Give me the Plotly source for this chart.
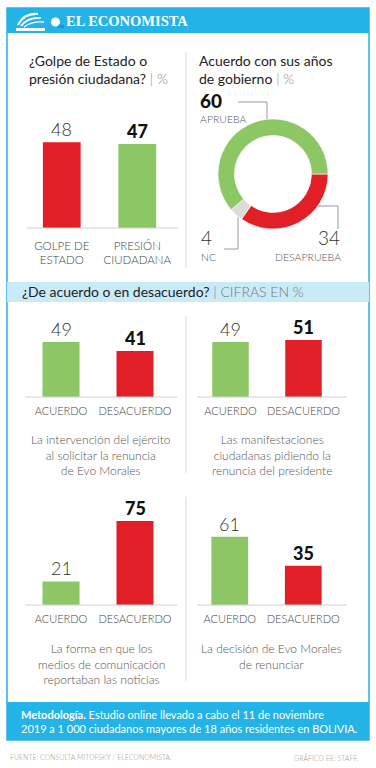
import plotly.graph_objects as go

W, H = 376, 768


def px(x):
    return x / W


def py(y):
    return 1 - y / H


GREEN = "#8cc665"
RED = "#e01f26"
NC_GRAY = "#dcdcdc"
BLUE = "#24b3e6"
LIGHTBLUE = "#c9eaf7"
FONT = "Lato"

# ---------------- data ----------------
golpe_cats = ["GOLPE DE<br>ESTADO", "PRESIÓN<br>CIUDADANA"]
golpe_vals = [48, 47]
golpe_bold = [False, True]
golpe_colors = [RED, GREEN]

donut_labels = ["DESAPRUEBA", "NC", "APRUEBA"]
donut_vals = [34, 4, 60]
donut_colors = [RED, NC_GRAY, GREEN]

acuerdo_cats = ["ACUERDO", "DESACUERDO"]
acuerdo_colors = [GREEN, RED]
acuerdo_bold = [False, True]
q1_vals = [49, 41]
q2_vals = [49, 51]
q3_vals = [21, 75]
q4_vals = [61, 35]
q1_desc = "La intervención del ejército<br>al solicitar la renuncia<br>de Evo Morales"
q2_desc = "Las manifestaciones<br>ciudadanas pidiendo la<br>renuncia del presidente"
q3_desc = "La forma en que los<br>medios de comunicación<br>reportaban las noticias"
q4_desc = "La decisión de Evo Morales<br>de renunciar"

fig = go.Figure()
annotations = []
shapes = []

# chart panels: (cats, vals, colors, bold, x0, x1, y_base, y_top, ymax, tick size, standoff)
panels = [
    (golpe_cats, golpe_vals, golpe_colors, golpe_bold, 24, 175, 228, 118, 61.5, 11.5, 9),
    (acuerdo_cats, q1_vals, acuerdo_colors, acuerdo_bold, 24, 172, 397, 320, 68.75, 11, 6),
    (acuerdo_cats, q2_vals, acuerdo_colors, acuerdo_bold, 194, 340, 397, 320, 68.75, 11, 6),
    (acuerdo_cats, q3_vals, acuerdo_colors, acuerdo_bold, 24, 172, 605, 500, 93.75, 11, 6),
    (acuerdo_cats, q4_vals, acuerdo_colors, acuerdo_bold, 193, 340, 605, 500, 93.75, 11, 6),
]

layout_axes = {}
for i, (cats, vals, cols, bold, x0, x1, yb, yt, ymax, tsz, stand) in enumerate(panels, start=1):
    xa = "x" if i == 1 else f"x{i}"
    ya = "y" if i == 1 else f"y{i}"
    fig.add_trace(go.Bar(x=cats, y=vals, marker=dict(color=cols, line=dict(width=0)),
                         width=0.5, xaxis=xa, yaxis=ya, showlegend=False,
                         hoverinfo="x+y"))
    xkey = "xaxis" if i == 1 else f"xaxis{i}"
    ykey = "yaxis" if i == 1 else f"yaxis{i}"
    layout_axes[xkey] = dict(domain=[px(x0), px(x1)], anchor=ya, showgrid=False,
                             zeroline=False, showline=False, ticks="",
                             ticklabelstandoff=stand,
                             tickfont=dict(family=FONT, size=tsz, color="#444", weight=300),
                             fixedrange=True)
    layout_axes[ykey] = dict(domain=[py(yb), py(yt)], anchor=xa, range=[0, ymax],
                             visible=False, fixedrange=True)
    for c, v, b in zip(cats, vals, bold):
        annotations.append(dict(
            x=c, y=v, xref=xa, yref=ya, text=str(v), showarrow=False,
            yanchor="bottom", xanchor="center", yshift=0,
            font=dict(family=FONT, size=18, color="#111" if b else "#333",
                      weight=900 if b else 300)))

# donut
fig.add_trace(go.Pie(values=donut_vals, labels=donut_labels,
                     marker=dict(colors=donut_colors, line=dict(color="white", width=0.6)),
                     hole=0.7, sort=False, direction="clockwise", rotation=90,
                     textinfo="none", showlegend=False,
                     domain=dict(x=[px(218), px(328)], y=[py(230), py(118)])))

# ---------------- decorations ----------------
def rect(x0, y0, x1, y1, fill=None, line=None, lw=0):
    d = dict(type="rect", xref="paper", yref="paper", x0=px(x0), x1=px(x1),
             y0=py(y1), y1=py(y0), layer="below")
    d["fillcolor"] = fill if fill else "rgba(0,0,0,0)"
    d["line"] = dict(color=line if line else "rgba(0,0,0,0)", width=lw)
    return d


def hline(x0, x1, y, color="#cfcfcf", w=1):
    return dict(type="line", xref="paper", yref="paper", x0=px(x0), x1=px(x1),
                y0=py(y), y1=py(y), line=dict(color=color, width=w))


def vline(x, y0, y1, color="#dedede", w=1):
    return dict(type="line", xref="paper", yref="paper", x0=px(x), x1=px(x),
                y0=py(y0), y1=py(y1), line=dict(color=color, width=w))


def path(points, color="#9a9a9a", w=1):
    s = "M " + " L ".join(f"{px(x):.5f},{py(y):.5f}" for x, y in points)
    return dict(type="path", xref="paper", yref="paper", path=s,
                line=dict(color=color, width=w))


shapes.append(rect(7, 8, 369, 33, fill=BLUE))
shapes.append(rect(7, 8, 369, 740, line=BLUE, lw=1.5))
shapes.append(rect(7, 282, 369, 302, fill=LIGHTBLUE))
shapes.append(rect(7, 702, 369, 740, fill=BLUE))

# dividers
shapes.append(vline(186, 52, 268))
shapes.append(vline(186, 316, 473))
shapes.append(vline(186, 497, 681))

# baselines
shapes.append(hline(27, 178, 228))
shapes.append(hline(25, 177, 397))
shapes.append(hline(197, 347, 397))
shapes.append(hline(25, 177, 605))
shapes.append(hline(197, 347, 605))

# donut leaders
shapes.append(path([(238, 102), (267, 102), (267, 119)]))
shapes.append(path([(238, 217), (238, 249), (224, 249)]))
shapes.append(path([(318, 206), (338, 206), (338, 229)]))

# logo (approximate white mark) and EN badge
def curve(d_pts, w=2):
    s = "M {:.5f},{:.5f} Q {:.5f},{:.5f} {:.5f},{:.5f}".format(
        px(d_pts[0][0]), py(d_pts[0][1]), px(d_pts[1][0]), py(d_pts[1][1]),
        px(d_pts[2][0]), py(d_pts[2][1]))
    return dict(type="path", xref="paper", yref="paper", path=s,
                line=dict(color="white", width=w))

shapes.append(curve([(18, 25), (24, 13), (38, 14)], 2.2))
shapes.append(curve([(21, 26), (28, 17), (41, 18)], 1.6))
shapes.append(curve([(24, 27), (32, 21), (44, 22)], 1.4))
shapes.append(rect(16, 28, 45, 31, fill="white"))
shapes.append(dict(type="circle", xref="paper", yref="paper", x0=px(51), x1=px(60),
                   y0=py(26.5), y1=py(17.5), fillcolor="white", line=dict(width=0)))
annotations.append(dict(x=px(55.5), y=py(22), xref="paper", yref="paper", text="EN",
                        showarrow=False, font=dict(family="DejaVu Sans", size=4.5, color="#1b6e90")))
annotations.append(dict(x=px(64), y=py(21), xref="paper", yref="paper",
                        text="<b>EL ECONOMISTA</b>", showarrow=False, xanchor="left",
                        yanchor="middle", font=dict(family="Liberation Serif", size=14.5, color="white")))


def txt(x, y, text, size, color="#222", anchor="left", weight=400, family=FONT):
    annotations.append(dict(x=px(x), y=py(y), xref="paper", yref="paper", text=text,
                            showarrow=False, xanchor=anchor, yanchor="middle", align=anchor,
                            font=dict(family=family, size=size, color=color, weight=weight)))


GRAYSEP = "<span style='color:#8a8a8a;font-weight:300'> | %</span>"
# titles
txt(27, 69, "¿Golpe de Estado o<br>presión ciudadana?" + GRAYSEP, 14)
txt(197, 69, "Acuerdo con sus años<br>de gobierno" + GRAYSEP, 14)
txt(20, 292, "¿De acuerdo o en desacuerdo?<span style='color:#777;font-weight:300'> | CIFRAS EN %</span>", 14)

# donut labels
txt(198, 101, "60", 19, "#111", weight=900)
txt(198, 119, "APRUEBA", 10.5, "#555", weight=300)
txt(199, 237, "4", 19, "#333", weight=300)
txt(199, 257, "NC", 10.5, "#555", weight=300)
txt(342, 237, "34", 19, "#333", anchor="right", weight=300)
txt(343, 257, "DESAPRUEBA", 10.5, "#555", anchor="right", weight=300)

# descriptions
for xc, ytop, d in [(101, 438, q1_desc), (272, 438, q2_desc), (101, 647, q3_desc), (271, 647, q4_desc)]:
    annotations.append(dict(x=px(xc), y=py(ytop - 8), xref="paper", yref="paper", text=d,
                            showarrow=False, xanchor="center", yanchor="top", align="center",
                            font=dict(family=FONT, size=12, color="#555", weight=300)))

# methodology
annotations.append(dict(x=px(19), y=py(721), xref="paper", yref="paper",
                        text="<b>Metodología.</b> Estudio online llevado a cabo el 11 de noviembre<br>"
                             "2019 a 1 000 ciudadanos mayores de 18 años residentes en BOLIVIA.",
                        showarrow=False, xanchor="left", yanchor="middle", align="left",
                        font=dict(family=FONT, size=11, color="white")))

# footer
txt(8, 757, "FUENTE: CONSULTA MITOFSKY / ELECONOMISTA.", 7, "#9a9a9a", weight=300)
txt(361, 757, "GRÁFICO EE: STAFF.", 7, "#9a9a9a", anchor="right", weight=300)

fig.update_layout(
    width=W, height=H, margin=dict(l=0, r=0, t=0, b=0),
    paper_bgcolor="white", plot_bgcolor="rgba(0,0,0,0)",
    shapes=shapes, annotations=annotations, showlegend=False,
    font=dict(family=FONT),
    **layout_axes,
)

fig.write_html("out.html", config={"displayModeBar": False},
               post_script="document.body.style.margin='0';")
